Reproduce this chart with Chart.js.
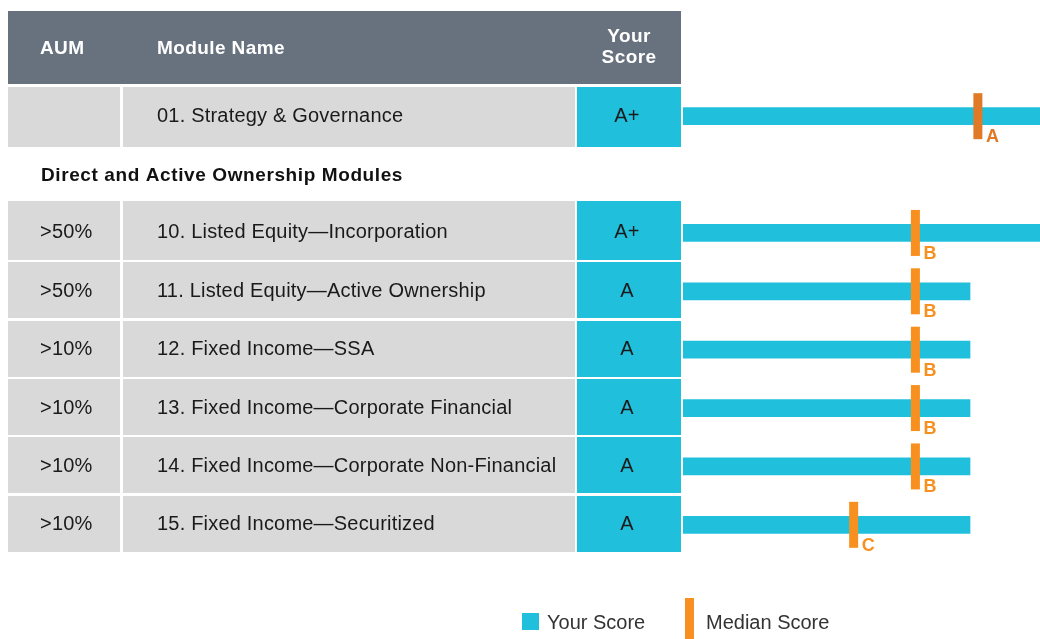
<!DOCTYPE html>
<html>
<head>
<meta charset="utf-8">
<script src="https://cdn.jsdelivr.net/npm/chart.js@4"></script>
<style>
  body { margin: 0; background: #fff; }
  canvas { display: block; }
</style>
</head>
<body>
<canvas id="score-chart" width="1040" height="639"></canvas>
<script>
// rows of the table, the second one is the section heading
const modules = [
  "01. Strategy & Governance",
  "Direct and Active Ownership Modules",
  "10. Listed Equity\u2014Incorporation",
  "11. Listed Equity\u2014Active Ownership",
  "12. Fixed Income\u2014SSA",
  "13. Fixed Income\u2014Corporate Financial",
  "14. Fixed Income\u2014Corporate Non-Financial",
  "15. Fixed Income\u2014Securitized",
];
const sectionRow = 1;
const aum = ["", null, ">50%", ">50%", ">10%", ">10%", ">10%", ">10%"];
const yourGrades = ["A+", null, "A+", "A", "A", "A", "A", "A"];
const yourScores = [100, null, 100, 80.4, 80.4, 80.4, 80.4, 80.4];
const medianGrades = ["A", null, "B", "B", "B", "B", "B", "C"];
const medianScores = [82.6, null, 65.1, 65.1, 65.1, 65.1, 65.1, 47.8];

const cyan = "#20c0dc";
const orange = "#f7901e";
const font = "'Liberation Sans', Arial, sans-serif";

const tablePlugin = {
  id: "table",
  beforeDatasetsDraw(chart) {
    const ctx = chart.ctx;
    const y = chart.scales.y;
    const band = y.height / modules.length;
    ctx.save();

    // header
    ctx.fillStyle = "#68727e";
    ctx.fillRect(8, 11, 673, 73);
    ctx.fillStyle = "#fff";
    ctx.font = "bold 19px " + font;
    ctx.letterSpacing = "0.4px";
    ctx.textBaseline = "middle";
    ctx.textAlign = "left";
    ctx.fillText("AUM", 40, 49);
    ctx.fillText("Module Name", 157, 49);
    ctx.textAlign = "center";
    ctx.fillText("Your", 629, 37);
    ctx.fillText("Score", 629, 58);

    modules.forEach((name, i) => {
      const cy = y.getPixelForValue(i);
      if (i === sectionRow) {
        ctx.fillStyle = "#111";
        ctx.font = "bold 19px " + font;
        ctx.letterSpacing = "0.6px";
        ctx.textAlign = "left";
        ctx.fillText(name, 41, cy + 1);
        return;
      }
      let top = Math.round(cy - band / 2);
      let h = Math.round(band) - 2;
      // rows next to the section heading are a bit taller
      if (i + 1 === sectionRow) h += 4;
      if (i - 1 === sectionRow) { top -= 3; h += 3; }
      ctx.fillStyle = "#d9d9d9";
      ctx.fillRect(8, top, 112, h);
      ctx.fillRect(123, top, 452, h);
      ctx.fillStyle = cyan;
      ctx.fillRect(577, top, 104, h);

      ctx.fillStyle = "#1a1a1a";
      ctx.font = "20px " + font;
      ctx.letterSpacing = "0.2px";
      ctx.textAlign = "left";
      ctx.fillText(aum[i], 40, cy);
      ctx.fillText(name, 157, cy);
      ctx.textAlign = "center";
      ctx.fillText(yourGrades[i], 627, cy);
    });
    ctx.restore();
  },
  afterDatasetsDraw(chart) {
    const ctx = chart.ctx;
    ctx.save();
    ctx.font = "bold 18px " + font;
    ctx.textAlign = "left";
    ctx.textBaseline = "alphabetic";
    chart.getDatasetMeta(0).data.forEach((pt, i) => {
      if (!medianGrades[i]) return;
      ctx.fillStyle = i === 0 ? "#e07a26" : orange;
      ctx.fillText(medianGrades[i], pt.x + 8, pt.y + 26);
    });

    // legend
    ctx.fillStyle = cyan;
    ctx.fillRect(522, 613, 17, 17);
    ctx.fillStyle = orange;
    ctx.fillRect(685, 598, 9, 41);
    ctx.fillStyle = "#333";
    ctx.font = "20px " + font;
    ctx.textBaseline = "middle";
    ctx.fillText("Your Score", 547, 623);
    ctx.fillText("Median Score", 706, 623);
    ctx.restore();
  },
};

new Chart(document.getElementById("score-chart").getContext("2d"), {
  data: {
    labels: modules,
    datasets: [
      {
        type: "line",
        label: "Median Score",
        data: medianScores,
        showLine: false,
        pointStyle: "line",
        rotation: 90,
        pointRadius: 23,
        pointHoverRadius: 23,
        pointBorderWidth: 9,
        pointBorderColor: medianScores.map((v, i) => (i === 0 ? "#e07a26" : orange)),
        clip: false,
        order: 0,
      },
      {
        type: "bar",
        label: "Your Score",
        data: yourScores,
        backgroundColor: cyan,
        barThickness: 17,
        order: 1,
      },
    ],
  },
  options: {
    indexAxis: "y",
    responsive: false,
    animation: false,
    layout: { autoPadding: false, padding: { left: 683, right: 0, top: 87, bottom: 85 } },
    scales: {
      x: { display: false, min: 0, max: 100 },
      y: { display: false, offset: true },
    },
    plugins: {
      legend: { display: false },
      tooltip: { enabled: false },
    },
  },
  plugins: [tablePlugin],
});
</script>
</body>
</html>
